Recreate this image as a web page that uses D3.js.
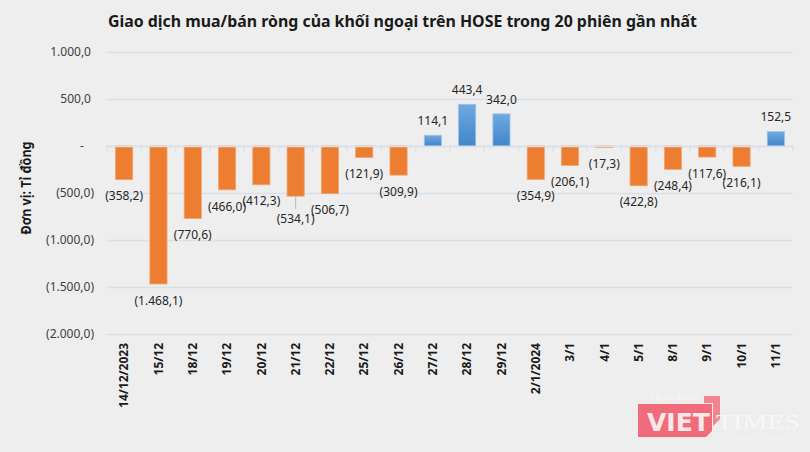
<!DOCTYPE html>
<html>
<head>
<meta charset="utf-8">
<script src="https://cdn.jsdelivr.net/npm/d3@7"></script>
<style>
  body { margin: 0; background: #eeeeee; }
  svg { display: block; }
</style>
</head>
<body>
<svg id="drawarea"></svg>
<script>
var title = "Giao dịch mua/bán ròng của khối ngoại trên HOSE trong 20 phiên gần nhất";
var yTitle = "Đơn vị: Tỉ đồng";

var sessions = ["14/12/2023", "15/12", "18/12", "19/12", "20/12", "21/12", "22/12", "25/12", "26/12", "27/12",
    "28/12", "29/12", "2/1/2024", "3/1", "4/1", "5/1", "8/1", "9/1", "10/1", "11/1"];

var netValues = [-358.2, -1468.1, -770.6, -466.0, -412.3, -534.1, -506.7, -121.9, -309.9, 114.1,
    443.4, 342.0, -354.9, -206.1, -17.3, -422.8, -248.4, -117.6, -216.1, 152.5];

var yTicks = [1000, 500, 0, -500, -1000, -1500, -2000];

// so kieu Viet Nam: 1.468,1 ; so am trong ngoac
function fmtNum(v){
    var s = Math.abs(v).toFixed(1).split(".");
    var intPart = s[0].replace(/\B(?=(\d{3})+(?!\d))/g, ".");
    return intPart + "," + s[1];
}
function fmtLabel(v){
    if(v < 0) return "(" + fmtNum(v) + ")";
    return fmtNum(v);
}

function init(){
    var W = 810, H = 452;
    var svg = d3.select("#drawarea").attr("width", W).attr("height", H);

    svg.append("rect").attr("width", W).attr("height", H).attr("fill", "#eeeeee");

    var defs = svg.append("defs");
    var grad = defs.append("linearGradient").attr("id", "blueGrad")
        .attr("x1", 0).attr("y1", 0).attr("x2", 0).attr("y2", 1);
    grad.append("stop").attr("offset", "0%").attr("stop-color", "#71a9e0");
    grad.append("stop").attr("offset", "100%").attr("stop-color", "#3f86c9");

    var x = d3.scaleBand()
        .domain(sessions)
        .range([107, 793])
        .paddingInner(0.5)
        .paddingOuter(0.25);

    var y = d3.scaleLinear()
        .domain([-2000, 1000])
        .range([334, 52]);

    // luoi ngang
    svg.append("g").selectAll("line")
        .data(yTicks)
        .enter().append("line")
        .attr("x1", 107).attr("x2", 793)
        .attr("y1", function(d){ return Math.round(y(d)) + 0.5; })
        .attr("y2", function(d){ return Math.round(y(d)) + 0.5; })
        .attr("stroke", "#d9e0e8")
        .attr("stroke-width", 1.3);

    // nhan truc y
    svg.append("g").selectAll("text")
        .data(yTicks)
        .enter().append("text")
        .attr("x", function(d){ return d == 0 ? 82 : (d > 0 ? 91 : 94); })
        .attr("y", function(d){ return y(d); })
        .attr("dy", "0.35em")
        .attr("text-anchor", function(d){ return d == 0 ? "middle" : "end"; })
        .attr("font-family", "Noto Sans")
        .attr("font-size", 12)
        .attr("fill", "#404040")
        .text(function(d){ return d == 0 ? "-" : fmtLabel(d); });

    // cot
    svg.append("g").selectAll("rect")
        .data(netValues)
        .enter().append("rect")
        .attr("x", function(d, i){ return x(sessions[i]); })
        .attr("y", function(d){ return y(Math.max(0, d)); })
        .attr("width", x.bandwidth())
        .attr("height", function(d){ return Math.abs(y(d) - y(0)); })
        .attr("fill", function(d){ return d < 0 ? "#ed7d31" : "url(#blueGrad)"; })
        .attr("stroke", function(d){ return d < 0 ? "#f3a46f" : "#9cc3ea"; })
        .attr("stroke-width", 0.8);

    // truc 0 va vach chia
    var y0 = Math.round(y(0)) + 0.5;
    svg.append("line")
        .attr("x1", 107).attr("x2", 793)
        .attr("y1", y0).attr("y2", y0)
        .attr("stroke", "#d9e0e8").attr("stroke-width", 1.3);
    var bounds = sessions.map(function(s){ return x(s) - x.step() * x.paddingInner() / 2; });
    bounds.push(793);
    svg.append("g").selectAll("line")
        .data(bounds)
        .enter().append("line")
        .attr("x1", function(d){ return d; }).attr("x2", function(d){ return d; })
        .attr("y1", y0 - 1).attr("y2", y0 + 5)
        .attr("stroke", "#d9e0e8").attr("stroke-width", 1.3);

    // nhan 21/12 bi day xuong, co duong dan
    var li = sessions.indexOf("21/12");
    function labelY(d, i){
        if(i == li) return y(d) + 23;
        return d < 0 ? y(d) + 16.5 : y(d) - 14.5;
    }
    svg.append("line")
        .attr("x1", x(sessions[li]) + x.bandwidth() / 2)
        .attr("x2", x(sessions[li]) + x.bandwidth() / 2)
        .attr("y1", y(netValues[li]))
        .attr("y2", y(netValues[li]) + 13)
        .attr("stroke", "#a9bdd6").attr("stroke-width", 1);

    // nhan du lieu
    svg.append("g").selectAll("text")
        .data(netValues)
        .enter().append("text")
        .attr("x", function(d, i){ return x(sessions[i]) + x.bandwidth() / 2; })
        .attr("y", labelY)
        .attr("dy", "0.35em")
        .attr("text-anchor", "middle")
        .attr("font-family", "Noto Sans")
        .attr("font-size", 12)
        .attr("fill", "#262626")
        .text(function(d){ return fmtLabel(d); });

    // nhan truc x
    svg.append("g").selectAll("text")
        .data(sessions)
        .enter().append("text")
        .attr("transform", function(d){
            return "translate(" + (x(d) + x.bandwidth() / 2) + ",343) rotate(-90)";
        })
        .attr("dy", "0.35em")
        .attr("text-anchor", "end")
        .attr("font-family", "Noto Sans")
        .attr("font-weight", "bold")
        .attr("font-size", 12)
        .attr("fill", "#1a1a1a")
        .text(function(d){ return d; });

    // tieu de
    svg.append("text")
        .attr("x", 108).attr("y", 27)
        .attr("font-family", "Noto Sans")
        .attr("font-weight", "bold")
        .attr("font-size", 16.5)
        .attr("textLength", 589)
        .attr("lengthAdjust", "spacingAndGlyphs")
        .attr("fill", "#1a1a1a")
        .text(title);

    svg.append("text")
        .attr("transform", "translate(26,188) rotate(-90)")
        .attr("dy", "0.35em")
        .attr("text-anchor", "middle")
        .attr("font-family", "Noto Sans")
        .attr("font-weight", "bold")
        .attr("font-size", 13.5)
        .attr("textLength", 93)
        .attr("lengthAdjust", "spacingAndGlyphs")
        .attr("fill", "#1a1a1a")
        .text(yTitle);

    // logo VietTimes (mo)
    var logo = svg.append("g").attr("opacity", 0.9);
    logo.append("path")
        .attr("d", "M704,396 L720,396 L720,419 L713,426 L713,403 L704,403 Z")
        .attr("fill", "#f47a85");
    logo.append("path")
        .attr("d", "M638,404 L712,404 L712,431 L706,437 L638,437 Z")
        .attr("fill", "#f25f6e");
    logo.append("text")
        .attr("x", 647).attr("y", 431)
        .attr("font-family", "DejaVu Sans")
        .attr("font-weight", "bold")
        .attr("font-size", 25)
        .attr("fill", "#fbe9eb")
        .text("VIET");
    logo.append("text")
        .attr("x", 716).attr("y", 429)
        .attr("font-family", "Liberation Serif")
        .attr("font-size", 22)
        .attr("textLength", 84)
        .attr("lengthAdjust", "spacingAndGlyphs")
        .attr("fill", "#f9f9f9")
        .text("TIMES");
    logo.append("text")
        .attr("x", 650).attr("y", 400)
        .attr("font-family", "Liberation Serif")
        .attr("font-size", 8)
        .attr("fill", "#f9f9f9")
        .text("Tạp chí điện tử");
    logo.append("text")
        .attr("x", 715).attr("y", 441)
        .attr("font-family", "Liberation Serif")
        .attr("font-style", "italic")
        .attr("font-size", 7)
        .attr("fill", "#f7f7f7")
        .text("Truyền thông trên nền tảng số");
}

init();
</script>
</body>
</html>
